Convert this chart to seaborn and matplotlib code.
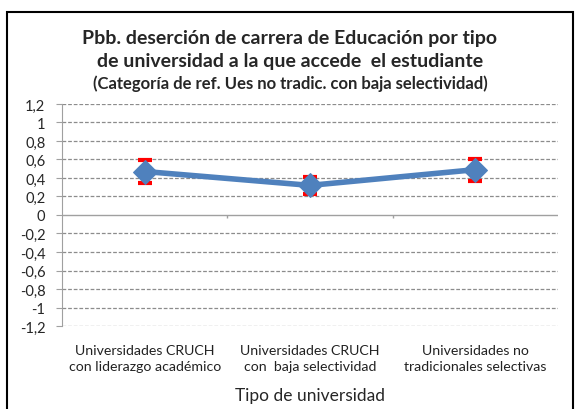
import matplotlib
matplotlib.use('Agg')
import matplotlib.pyplot as plt
import matplotlib.patches as patches
import seaborn as sns
import numpy as np

categorias = ['Universidades CRUCH\ncon liderazgo académico',
              'Universidades CRUCH\ncon  baja selectividad',
              'Universidades no\ntradicionales selectivas']
pbb = [0.47, 0.32, 0.49]
error = [0.12, 0.09, 0.12]
yticks = [1.2, 1, 0.8, 0.6, 0.4, 0.2, 0, -0.2, -0.4, -0.6, -0.8, -1, -1.2]

sns.set_style('white')
plt.rcParams['font.family'] = ['Lato', 'DejaVu Sans']

fig = plt.figure(figsize=(5.8, 4.1), dpi=100)
ax = fig.add_axes([0.107, 0.2024, 0.855, 0.5416])

pos = np.arange(len(categorias))
ax.errorbar(pos, pbb, yerr=error, fmt='none', ecolor='#FF0000', elinewidth=2,
            capsize=5, capthick=3, zorder=2)
sns.lineplot(x=pos, y=pbb, ax=ax, color='#4F81BD', linewidth=4, marker='D',
             markersize=12, markeredgecolor='#4F81BD', zorder=3)

ax.set_xlim(-0.5, 2.5)
ax.set_ylim(-1.2, 1.2)
ax.set_yticks(yticks)
ax.set_yticklabels([('%g' % v).replace('.', ',') for v in yticks], fontsize=10.5)
for v in yticks:
    if v != 0:
        ax.axhline(v, color='#8C8C8C', linestyle=(0, (3, 1.5)), linewidth=0.9, zorder=1)
ax.axhline(0, color='#A0A0A0', linewidth=1, zorder=1)
ax.vlines([0.5, 1.5], -0.03, 0, color='#A0A0A0', linewidth=1)

ax.set_xticks(pos)
ax.set_xticklabels(categorias, fontsize=10.2, linespacing=1.4, color='#222222')
ax.tick_params(axis='x', length=0, pad=13)
ax.tick_params(axis='y', length=4, color='#A0A0A0', direction='out', left=True, pad=8)
for s in ['top', 'right', 'bottom']:
    ax.spines[s].set_visible(False)
ax.spines['left'].set_color('#A0A0A0')
ax.set_xlabel('Tipo de universidad', fontsize=12.5, labelpad=11)
ax.set_ylabel('')

fig.text(0.5, 0.905, 'Pbb. deserción de carrera de Educación por tipo',
         ha='center', va='center', fontsize=14, fontweight='bold')
fig.text(0.5, 0.851, 'de universidad a la que accede  el estudiante',
         ha='center', va='center', fontsize=14, fontweight='bold')
fig.text(0.5, 0.795, '(Categoría de ref. Ues no tradic. con baja selectividad)',
         ha='center', va='center', fontsize=12, fontweight='bold')

fig.add_artist(patches.Rectangle((7 / 580, -0.05), 566 / 580, 1.05 - 13 / 410,
                                 transform=fig.transFigure, fill=False,
                                 edgecolor='black', linewidth=1.5))

fig.savefig('out.png', dpi=100)
